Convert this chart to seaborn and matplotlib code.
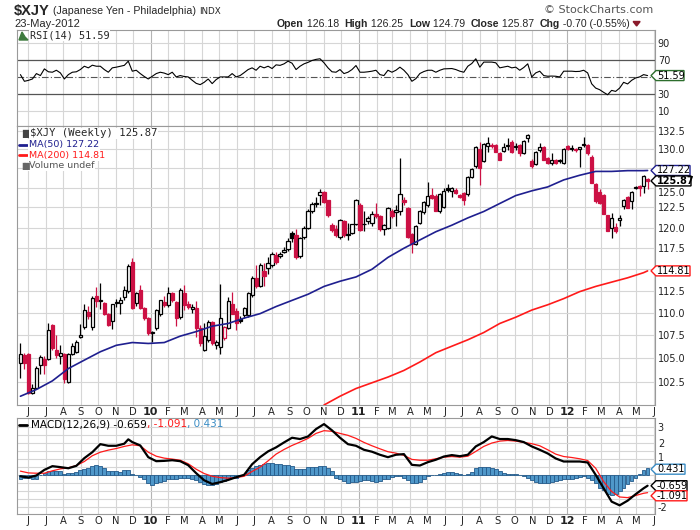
import numpy as np
import pandas as pd
import matplotlib
matplotlib.use("Agg")
import matplotlib.pyplot as plt
import matplotlib.dates as mdates
from matplotlib.patches import Polygon
from matplotlib.transforms import IdentityTransform, ScaledTranslation
from matplotlib.ticker import FixedLocator, FixedFormatter, NullLocator
import seaborn as sns

# ---------------- data (weekly, first week starting 2009-05-18) ----------------
first_week = "2009-05-18"
opens = [104.5, 105.3, 105.5, 101.3, 101.9, 104.3, 104.9, 104.9, 108.6, 105.9,
         105.2, 105.5, 102.5, 105.5, 105.7, 107.3, 108.4, 110.1, 108.4, 111.9,
         111.3, 111.1, 109.9, 109.1, 111.1, 111.1, 111.8, 112.5, 115.9, 111.1,
         112.6, 110.5, 109.4, 107.7, 108.3, 109.9, 111.2, 110.9, 112.2, 111.2,
         109.5, 112.2, 111.0, 110.4, 110.5, 108.3, 105.9, 107.0, 109.0, 106.4,
         106.2, 107.2, 108.3, 111.0, 110.2, 109.3, 109.7, 109.7, 112.0, 114.0,
         113.0, 114.8, 115.1, 115.5, 116.7, 116.6, 117.1, 117.4, 119.3, 119.1,
         116.6, 118.8, 120.0, 122.1, 122.9, 124.1, 124.4, 123.4, 120.3, 119.8,
         118.8, 120.8, 119.1, 119.4, 120.5, 122.8, 120.4, 120.8, 120.6, 121.7,
         121.4, 119.8, 120.0, 122.1, 121.9, 122.1, 123.4, 122.4, 119.2, 118.0,
         120.6, 121.9, 122.8, 124.1, 124.0, 122.1, 122.6, 125.0, 124.6, 124.7,
         124.1, 124.3, 124.2, 126.4, 127.8, 130.0, 128.5, 130.4, 130.6, 130.6,
         129.5, 129.8, 130.4, 131.0, 130.3, 130.6, 129.5, 131.5, 128.5, 128.1,
         129.9, 130.3, 128.9, 128.2, 128.6, 128.4, 128.2, 130.4, 130.1, 130.1,
         130.0, 130.6, 130.6, 129.0, 125.5, 124.4, 124.1, 121.5, 120.0, 120.1,
         120.9, 122.7, 123.8, 123.3, 124.9, 125.2, 125.2, 126.18]
highs = [106.6, 105.6, 105.6, 102.3, 104.2, 105.4, 105.2, 108.9, 108.7, 107.5,
         106.4, 105.6, 105.6, 106.6, 107.0, 108.7, 111.0, 110.8, 111.9, 112.9,
         113.4, 111.2, 110.0, 111.0, 111.6, 111.8, 113.0, 115.6, 116.3, 112.4,
         113.2, 110.7, 109.5, 108.0, 110.4, 111.5, 111.9, 112.9, 112.4, 111.3,
         112.8, 113.2, 111.3, 111.0, 111.3, 108.6, 108.9, 109.2, 109.1, 107.0,
         113.3, 108.5, 111.8, 112.4, 110.5, 109.6, 110.6, 112.4, 114.2, 115.5,
         115.7, 115.7, 116.5, 117.0, 117.1, 117.0, 117.6, 118.7, 119.6, 119.8,
         118.8, 120.2, 122.3, 123.2, 123.8, 124.8, 124.6, 123.5, 120.6, 120.3,
         121.1, 121.0, 120.6, 120.5, 123.6, 123.0, 122.1, 121.4, 122.0, 123.1,
         121.6, 120.5, 122.6, 122.3, 122.8, 128.8, 123.8, 122.6, 119.4, 120.3,
         122.2, 123.3, 125.7, 124.9, 124.2, 124.3, 125.0, 125.5, 125.1, 124.9,
         124.2, 124.4, 126.5, 127.6, 130.4, 131.0, 130.8, 131.6, 130.8, 130.7,
         129.7, 130.8, 131.5, 131.3, 130.8, 130.7, 131.3, 132.1, 128.7, 129.8,
         130.8, 130.4, 129.0, 129.5, 128.7, 128.7, 130.2, 130.6, 130.6, 130.2,
         130.3, 131.6, 130.7, 129.2, 125.6, 124.8, 124.2, 121.6, 121.8, 120.6,
         121.5, 123.6, 124.0, 124.6, 125.2, 125.4, 126.6, 126.25]
lows = [102.9, 103.8, 101.2, 101.2, 101.7, 103.3, 103.3, 104.8, 105.9, 105.0,
        104.4, 102.4, 102.4, 105.3, 105.6, 107.2, 108.2, 109.3, 108.1, 110.7,
        110.4, 109.8, 108.5, 108.2, 110.6, 109.9, 111.5, 112.3, 110.4, 110.8,
        110.4, 109.2, 107.5, 106.8, 108.1, 109.6, 110.7, 110.6, 111.2, 108.5,
        109.3, 110.3, 110.4, 110.0, 107.3, 106.3, 105.8, 106.8, 106.4, 106.0,
        105.5, 107.0, 108.2, 109.9, 108.1, 108.8, 109.4, 109.5, 111.8, 112.8,
        112.9, 113.0, 114.5, 115.3, 115.6, 116.3, 116.9, 117.2, 118.3, 116.2,
        116.3, 118.6, 119.8, 121.8, 122.6, 122.8, 123.0, 121.3, 119.5, 118.9,
        118.6, 118.9, 118.5, 119.2, 120.3, 119.6, 119.6, 120.4, 120.2, 121.2,
        119.6, 119.1, 119.8, 121.2, 120.2, 121.5, 122.8, 118.7, 116.9, 117.9,
        120.4, 121.7, 122.6, 123.6, 122.0, 121.8, 122.4, 124.5, 123.8, 124.2,
        123.7, 122.8, 124.0, 126.2, 127.6, 125.3, 128.3, 129.7, 130.2, 129.7,
        128.6, 129.6, 129.9, 129.5, 129.9, 129.1, 129.4, 131.0, 127.5, 127.9,
        129.7, 128.6, 128.1, 127.9, 128.1, 128.2, 128.1, 129.9, 129.8, 129.6,
        127.7, 130.3, 129.3, 125.6, 123.1, 122.9, 121.7, 119.6, 118.7, 119.3,
        120.2, 122.3, 122.4, 122.3, 124.8, 123.9, 124.3, 124.79]
closes = [105.5, 104.5, 101.3, 101.9, 104.0, 105.1, 104.3, 108.1, 106.1, 105.4,
          105.6, 102.8, 105.5, 106.3, 106.8, 107.5, 110.3, 109.6, 111.7, 111.3,
          111.5, 109.9, 108.6, 111.0, 111.2, 111.4, 112.6, 115.4, 110.5, 112.2,
          110.5, 109.4, 107.7, 107.9, 110.3, 111.4, 110.9, 112.2, 111.4, 109.4,
          112.6, 110.9, 110.6, 110.7, 108.3, 106.7, 107.4, 109.0, 106.6, 106.8,
          109.4, 108.4, 111.3, 109.9, 108.9, 109.1, 110.5, 112.3, 114.0, 113.0,
          115.5, 114.2, 115.7, 116.8, 115.8, 116.8, 117.3, 118.4, 118.7, 116.4,
          118.7, 120.0, 122.0, 122.9, 123.0, 124.4, 123.2, 121.6, 119.7, 119.1,
          120.9, 119.1, 119.2, 120.4, 123.4, 119.7, 120.4, 121.2, 121.7, 121.4,
          119.8, 120.3, 122.4, 121.4, 122.2, 124.2, 123.2, 118.8, 118.0, 120.2,
          122.1, 123.2, 124.0, 123.7, 122.1, 124.2, 124.6, 124.7, 125.0, 124.3,
          123.8, 123.4, 126.4, 127.4, 130.3, 127.5, 130.7, 130.8, 130.4, 129.7,
          128.6, 130.3, 130.6, 129.7, 130.4, 129.5, 131.1, 131.9, 127.8, 129.7,
          130.3, 128.6, 128.2, 128.6, 128.2, 128.6, 130.1, 130.0, 130.1, 129.9,
          130.3, 130.6, 129.5, 125.6, 123.3, 123.1, 121.7, 119.6, 121.2, 119.6,
          121.2, 123.5, 122.4, 124.5, 125.1, 125.0, 126.57, 125.87]

# moving averages read every 4 weeks (week index), last point = current week
ma50_weeks = list(range(0, 157, 4)) + [157]
ma50 = [101.0, 101.7, 102.6, 103.9, 104.8, 105.7, 106.4, 106.7, 106.6, 106.7,
        107.4, 107.9, 108.5, 108.8, 109.4, 109.9, 110.7, 111.4, 112.1, 113.0,
        113.6, 114.1, 115.0, 116.4, 117.5, 118.5, 119.5, 120.3, 121.2, 122.0,
        123.0, 124.0, 124.6, 125.1, 126.0, 126.6, 127.1, 127.1, 127.2, 127.2,
        127.22]
ma200_weeks = list(range(76, 157, 4)) + [157]
ma200 = [100.1, 101.0, 101.8, 102.4, 103.0, 103.7, 104.6, 105.6, 106.3, 107.0,
         107.8, 108.8, 109.5, 110.3, 110.9, 111.6, 112.4, 113.0, 113.5, 114.0,
         114.6, 114.81]

rsi = [52.7, 44.9, 46.0, 47.6, 53.9, 51.6, 59.4, 56.0, 55.5, 57.8,
       54.7, 47.6, 52.7, 55.5, 56.0, 58.6, 62.5, 60.6, 63.7, 62.5,
       62.5, 58.6, 55.5, 60.6, 61.4, 62.5, 63.5, 68.4, 56.7, 57.8,
       53.9, 50.5, 47.6, 50.8, 53.9, 55.5, 54.5, 52.7, 55.5, 50.0,
       51.6, 50.5, 50.0, 46.1, 42.5, 41.0, 43.7, 47.6, 42.2, 46.9,
       50.0, 50.0, 50.0, 53.9, 50.0, 51.6, 55.0, 58.6, 60.6, 57.8,
       62.5, 60.6, 62.5, 59.8, 64.1, 63.5, 65.3, 68.4, 66.0, 58.6,
       62.5, 65.3, 67.0, 69.2, 70.5, 71.2, 66.5, 60.6, 56.0, 55.5,
       58.6, 53.9, 55.5, 58.6, 63.3, 55.5, 55.5, 56.0, 56.7, 57.8,
       52.7, 51.6, 57.8, 55.5, 57.8, 61.4, 57.8, 52.7, 44.9, 48.0,
       54.0, 56.3, 57.8, 57.8, 55.5, 57.8, 59.4, 59.6, 59.8, 58.6,
       56.7, 55.5, 62.5, 65.7, 71.2, 61.4, 67.3, 67.3, 67.3, 66.5,
       60.6, 61.5, 62.5, 60.6, 61.4, 57.8, 61.0, 65.3, 50.0, 54.7,
       56.7, 51.6, 50.8, 51.0, 50.8, 50.0, 56.7, 56.7, 56.7, 56.3,
       56.5, 57.8, 54.7, 42.0, 37.0, 35.1, 32.0, 29.2, 34.3, 33.1,
       37.0, 43.7, 41.8, 46.0, 48.8, 50.0, 52.7, 51.59]

macd_weeks = [0, 2, 4, 6, 8, 10, 12, 14, 16, 18, 20, 22, 24, 26, 27, 28, 30, 32,
              34, 36, 38, 40, 42, 44, 46, 48, 50, 52, 54, 56, 58, 60, 62, 64, 66,
              68, 70, 72, 74, 76, 78, 80, 82, 84, 86, 88, 90, 92, 94, 96, 98, 100,
              102, 104, 106, 108, 110, 112, 114, 116, 118, 120, 122, 124, 126,
              128, 130, 132, 134, 136, 138, 140, 142, 144, 146, 148, 150, 152,
              154, 156, 157]
macd = [-0.07, -0.15, -0.02, 0.33, 0.56, 0.50, 0.43, 0.58, 1.06, 1.43, 1.93,
        1.83, 1.83, 1.96, 2.23, 2.06, 1.85, 1.12, 0.87, 0.89, 0.93, 0.87, 0.62,
        0.12, -0.32, -0.55, -0.44, -0.30, -0.13, 0.02, 0.68, 1.12, 1.48, 1.73,
        2.04, 2.33, 2.25, 2.41, 2.87, 3.18, 2.79, 2.33, 1.93, 1.83, 1.58, 1.46,
        1.27, 1.12, 1.27, 1.31, 0.64, 0.60, 0.81, 0.96, 1.16, 1.25, 1.18, 1.27,
        1.79, 2.06, 2.41, 2.25, 2.25, 2.18, 2.06, 1.79, 1.58, 1.35, 1.04, 0.85,
        0.85, 0.85, 0.79, 0.02, -0.82, -1.65, -1.88, -1.59, -1.19, -0.82, -0.659]
signal = [0.25, 0.14, 0.12, 0.12, 0.27, 0.39, 0.46, 0.60, 0.85, 1.21, 1.43,
          1.56, 1.66, 1.79, 1.84, 1.89, 1.83, 1.43, 1.18, 1.06, 1.00, 0.93, 0.71,
          0.37, 0.10, -0.07, -0.15, -0.19, -0.15, -0.07, 0.23, 0.50, 0.89, 1.31,
          1.60, 1.85, 2.06, 2.29, 2.60, 2.77, 2.73, 2.60, 2.48, 2.29, 2.04, 1.83,
          1.64, 1.46, 1.37, 1.23, 0.98, 0.93, 0.93, 1.02, 1.12, 1.16, 1.12, 1.18,
          1.48, 1.79, 2.00, 2.12, 2.16, 2.12, 2.04, 1.96, 1.83, 1.58, 1.31, 1.16,
          1.10, 1.02, 0.91, 0.43, -0.40, -1.02, -1.36, -1.40, -1.27, -1.13, -1.091]
hist = [-0.21, -0.17, -0.17, -0.27, -0.27, 0.0, 0.15, 0.27, 0.27, 0.27,
        0.23, 0.06, 0.15, 0.15, 0.21, 0.31, 0.38, 0.42, 0.56, 0.62,
        0.58, 0.42, 0.25, 0.25, 0.23, 0.21, 0.29, 0.35, 0.10, -0.02,
        -0.10, -0.27, -0.48, -0.62, -0.52, -0.42, -0.35, -0.27, -0.27, -0.23,
        -0.15, -0.15, -0.17, -0.21, -0.31, -0.42, -0.56, -0.62, -0.62, -0.58,
        -0.42, -0.38, -0.27, -0.17, -0.15, -0.06, 0.0, 0.35, 0.46, 0.56,
        0.62, 0.69, 0.73, 0.73, 0.69, 0.67, 0.62, 0.62, 0.56, 0.38,
        0.38, 0.38, 0.48, 0.52, 0.52, 0.58, 0.58, 0.42, 0.27, -0.15,
        -0.27, -0.35, -0.48, -0.42, -0.42, -0.38, -0.31, -0.31, -0.35, -0.42,
        -0.38, -0.27, -0.23, -0.10, -0.06, -0.06, -0.15, -0.31, -0.52, -0.52,
        -0.42, -0.21, -0.06, 0.0, 0.02, 0.10, 0.15, 0.19, 0.19, 0.15,
        0.06, -0.02, 0.06, 0.21, 0.42, 0.48, 0.52, 0.52, 0.46, 0.38,
        0.25, 0.15, 0.10, 0.06, 0.06, -0.02, -0.06, -0.15, -0.31, -0.42,
        -0.48, -0.48, -0.48, -0.44, -0.35, -0.31, -0.21, -0.21, -0.21, -0.15,
        -0.10, -0.06, -0.15, -0.31, -0.48, -0.77, -0.94, -1.19, -1.25, -1.15,
        -0.98, -0.77, -0.56, -0.35, -0.15, 0.06, 0.31, 0.431]

price_ticks = [102.5, 105.0, 107.5, 110.0, 112.5, 115.0, 117.5, 120.0, 122.5,
               125.0, 127.5, 130.0, 132.5]
price_hidden = [115.0, 127.5]          # labels covered by the value tags
rsi_ticks = [10, 30, 70, 90]
macd_ticks = [-2, 1, 2, 3]             # 0 and -1 are covered by the value tags
macd_grid = [-2, -1.5, -1, -0.5, 0, 0.5, 1, 1.5, 2, 2.5, 3]

# ---------------- styling ----------------
sns.set_style("white")
plt.rcParams['font.family'] = ['DejaVu Sans']
W, H = 700, 530
RED = '#cc1144'
GRID = '#d6d6d6'
YEARGRID = '#b4b4b4'
SPINE = '#9a9a9a'

fig = plt.figure(figsize=(W / 100, H / 100), dpi=100)


def box(x0, y0, x1, y1):
    return [x0 / W, 1 - y1 / H, (x1 - x0) / W, (y1 - y0) / H]


ax_r = fig.add_axes(box(17, 30, 655, 126))
ax_p = fig.add_axes(box(17, 126, 655, 405))
ax_m = fig.add_axes(box(17, 418, 655, 514))

n = len(closes)
dates = pd.date_range(first_week, periods=n, freq="7D")
dn = mdates.date2num(dates)
x_lo = mdates.date2num(pd.Timestamp("2009-05-12"))
x_hi = mdates.date2num(pd.Timestamp("2012-06-03"))
months = pd.date_range("2009-06-01", "2012-06-01", freq="MS")
mnum = mdates.date2num(months)
mlabels = [(m.strftime('%y') if m.month == 1 else m.strftime('%b')[0]) for m in months]

for ax in (ax_r, ax_p, ax_m):
    ax.set_facecolor('white')
    ax.set_xlim(x_lo, x_hi)
    for m, v in zip(months, mnum):
        ax.axvline(v, color=YEARGRID if m.month == 1 else GRID, lw=0.8, zorder=0)
    for s in ax.spines.values():
        s.set_color(SPINE)
        s.set_linewidth(0.8)
    ax.yaxis.tick_right()
    ax.tick_params(axis='y', length=0, pad=2, labelsize=7, labelcolor='#222222')
    ax.tick_params(axis='x', length=0, pad=1.5, labelsize=7.2, labelcolor='#222222')

# ---------------- RSI panel ----------------
ax_r.set_ylim(-7.3, 104.8)
for v in (10, 90):
    ax_r.axhline(v, color=GRID, lw=0.8, zorder=0)
ax_r.axhline(70, color='#555555', lw=0.9, zorder=1)
ax_r.axhline(30, color='#555555', lw=0.9, zorder=1)
ax_r.axhline(50, color='#555555', lw=0.8, ls=(0, (6, 2, 1, 2)), zorder=1)
sns.lineplot(x=dn, y=rsi, ax=ax_r, color='black', lw=0.8, legend=False, zorder=3)
ax_r.yaxis.set_major_locator(FixedLocator(rsi_ticks))
ax_r.yaxis.set_major_formatter(FixedFormatter([str(t) for t in rsi_ticks]))
ax_r.set_xticks([])
ax_r.set_xlabel('')
ax_r.set_ylabel('')

# ---------------- price panel ----------------
ax_p.set_yscale('log')
ax_p.set_ylim(100.1, 133.14)
for v in price_ticks:
    ax_p.axhline(v, color=GRID, lw=0.8, zorder=0)
ax_p.yaxis.set_major_locator(FixedLocator(price_ticks))
ax_p.yaxis.set_major_formatter(FixedFormatter(
    ["" if t in price_hidden else f"{t:.1f}" for t in price_ticks]))
ax_p.yaxis.set_minor_locator(NullLocator())

o = np.array(opens); hi = np.array(highs); lo = np.array(lows); c = np.array(closes)
prev = np.r_[-np.inf, c[:-1]]
edge = [RED if c[i] < prev[i] else 'black' for i in range(n)]
face = [edge[i] if c[i] < o[i] else 'white' for i in range(n)]
ax_p.vlines(dn, lo, hi, colors=edge, lw=0.9, zorder=3)
body_lo = np.minimum(o, c)
body_h = np.maximum(np.abs(c - o), 0.06)
ax_p.bar(dn, body_h, bottom=body_lo, width=5.6, color=face, edgecolor=edge,
         linewidth=0.9, zorder=4)

ma50_dates = mdates.date2num(pd.Timestamp(first_week) + pd.to_timedelta(np.array(ma50_weeks) * 7, unit='D'))
ma200_dates = mdates.date2num(pd.Timestamp(first_week) + pd.to_timedelta(np.array(ma200_weeks) * 7, unit='D'))
sns.lineplot(x=ma50_dates, y=ma50, ax=ax_p, color='#1f1f8f', lw=1.2, legend=False, zorder=5)
sns.lineplot(x=ma200_dates, y=ma200, ax=ax_p, color='#ff1a1a', lw=1.2, legend=False, zorder=5)
ax_p.set_xlabel(''); ax_p.set_ylabel('')

ax_p.xaxis.set_major_locator(FixedLocator(mnum))
ax_p.xaxis.set_major_formatter(FixedFormatter(mlabels))

# ---------------- MACD panel ----------------
ax_m.set_ylim(-2.42, 3.56)
for v in macd_grid:
    ax_m.axhline(v, color=GRID, lw=0.8, zorder=0)
ax_m.bar(dn, hist, width=6.6, color='#4f97c9', edgecolor='#245a8a', linewidth=0.6, zorder=2)
macd_dates = mdates.date2num(pd.Timestamp(first_week) + pd.to_timedelta(np.array(macd_weeks) * 7, unit='D'))
sns.lineplot(x=macd_dates, y=signal, ax=ax_m, color='#ff1a1a', lw=0.9, legend=False, zorder=3)
sns.lineplot(x=macd_dates, y=macd, ax=ax_m, color='black', lw=1.6, legend=False, zorder=4)
ax_m.yaxis.set_major_locator(FixedLocator(macd_ticks))
ax_m.yaxis.set_major_formatter(FixedFormatter([str(t) for t in macd_ticks]))
ax_m.xaxis.set_major_locator(FixedLocator(mnum))
ax_m.xaxis.set_major_formatter(FixedFormatter(mlabels))
ax_m.set_xlabel(''); ax_m.set_ylabel('')

for ax in (ax_p, ax_m):
    for lab, m in zip(ax.get_xticklabels(), months):
        if m.month == 1:
            lab.set_fontweight('bold')
            lab.set_fontsize(8)

# nudge labels that sit right at a value tag
for lab in ax_p.get_yticklabels():
    if lab.get_text() == "125.0":
        lab.set_transform(lab.get_transform() + ScaledTranslation(0, -3 / 72, fig.dpi_scale_trans))
for lab in ax_m.get_yticklabels():
    if lab.get_text() == "1":
        lab.set_transform(lab.get_transform() + ScaledTranslation(0, 1.2 / 72, fig.dpi_scale_trans))

# ---------------- texts ----------------
fig.canvas.draw()
renderer = fig.canvas.get_renderer()


def px(x, y):
    return x / W, 1 - y / H


def chain(x, y, parts):
    for s, kw in parts:
        t = fig.text(*px(x, y), s, va='center', ha='left', **kw)
        x = t.get_window_extent(renderer).x1
    return x


HF = 'Liberation Sans'
chain(14, 11, [("$XJY", dict(fontsize=10.5, fontweight='bold', family=HF)),
               (" (Japanese Yen - Philadelphia) ", dict(fontsize=7.7, family=HF)),
               ("INDX", dict(fontsize=6.3, family='DejaVu Sans'))])
fig.text(*px(14, 24), "23-May-2012", fontsize=8, family=HF, va='center')
FS = 7.6
xe = chain(277, 24, [("Open", dict(fontsize=FS, fontweight='bold', family=HF)),
                     (" 126.18  ", dict(fontsize=FS, family=HF)),
                     ("High", dict(fontsize=FS, fontweight='bold', family=HF)),
                     (" 126.25  ", dict(fontsize=FS, family=HF)),
                     ("Low", dict(fontsize=FS, fontweight='bold', family=HF)),
                     (" 124.79  ", dict(fontsize=FS, family=HF)),
                     ("Close", dict(fontsize=FS, fontweight='bold', family=HF)),
                     (" 125.87  ", dict(fontsize=FS, family=HF)),
                     ("Chg", dict(fontsize=FS, fontweight='bold', family=HF)),
                     (" -0.70 (-0.55%)", dict(fontsize=FS, family=HF))])
tri = Polygon([[xe + 3, H - 21.5], [xe + 10, H - 21.5], [xe + 6.5, H - 26]], closed=True,
              color='#8b1a2b', transform=IdentityTransform())
fig.add_artist(tri)
fig.text(*px(653, 10), "\u00a9 StockCharts.com", fontsize=8, family='DejaVu Sans',
         color='#555555', ha='right', va='center')

# panel legends
bg = dict(facecolor='white', edgecolor='none', pad=0.6)
fig.add_artist(Polygon([[19, H - 40], [22, H - 32], [25, H - 37], [28, H - 40]], closed=True,
                       color='#3d7a3d', transform=IdentityTransform()))
fig.text(*px(30, 35.5), "RSI(14) 51.59", fontsize=7.3, family='DejaVu Sans Mono',
         va='center', bbox=bg)
fig.text(*px(19, 133.5), "\u2590\u2588", fontsize=5.5, color='#444444', va='center')
fig.text(*px(30, 133.5), "$XJY (Weekly) 125.87", fontsize=7.6, family='DejaVu Sans Mono',
         va='center', bbox=bg)
for yy, txt, col in ((144.5, "MA(50) 127.22", '#1f1f8f'), (155.3, "MA(200) 114.81", '#ff1a1a'),
                     (166, "Volume undef", '#555555')):
    fig.text(*px(29, yy), txt, fontsize=6.8, color=col, va='center', bbox=bg)
for yy, col in ((144.5, '#1f1f8f'), (155.3, '#ff1a1a')):
    fig.add_artist(plt.Line2D([19, 27], [H - yy, H - yy], color=col, lw=2,
                              transform=IdentityTransform()))
fig.text(*px(19, 166), "\u2590\u2588", fontsize=5, color='#666666', va='center')

fig.add_artist(plt.Line2D([19, 27], [H - 424.5, H - 424.5], color='black', lw=2,
                          transform=IdentityTransform()))
chain(31, 424.5, [("MACD(12,26,9) -0.659", dict(fontsize=7.5, color='black')),
                  (", -1.091", dict(fontsize=7.5, color='#ff1a1a')),
                  (", 0.431", dict(fontsize=7.5, color='#3a8cc4'))])


# right-hand value tags
def tag(ax, val, text, col, ypix=None, bold=False, width=33):
    if ypix is None:
        yd = ax.transData.transform((x_hi, val))[1]
    else:
        yd = H - ypix
    h = 5
    x0 = 651
    poly = Polygon([[x0, yd], [x0 + 5, yd + h], [x0 + width, yd + h],
                    [x0 + width, yd - h], [x0 + 5, yd - h]], closed=True,
                   facecolor='white', edgecolor=col, lw=1.0, transform=IdentityTransform(),
                   zorder=10)
    fig.add_artist(poly)
    fig.text((x0 + 6) / W, yd / H, text, fontsize=7.0, va='center', ha='left',
             fontweight='bold' if bold else 'normal', color='black', zorder=11)


tag(ax_r, 51.59, "51.59", '#2d6e2d', width=33)
tag(ax_p, 127.22, "127.22", '#1f1f8f', width=39)
tag(ax_p, 125.87, "125.87", 'black', bold=True, width=40)
tag(ax_p, 114.81, "114.81", '#ff1a1a', width=39)
tag(ax_m, 0.431, "0.431", '#3a8cc4', ypix=469.2, width=34)
tag(ax_m, -0.659, "-0.659", 'black', width=36)
tag(ax_m, -1.091, "-1.091", '#ff1a1a', ypix=495.8, width=36)

fig.savefig("out.png", dpi=100, facecolor='white')
